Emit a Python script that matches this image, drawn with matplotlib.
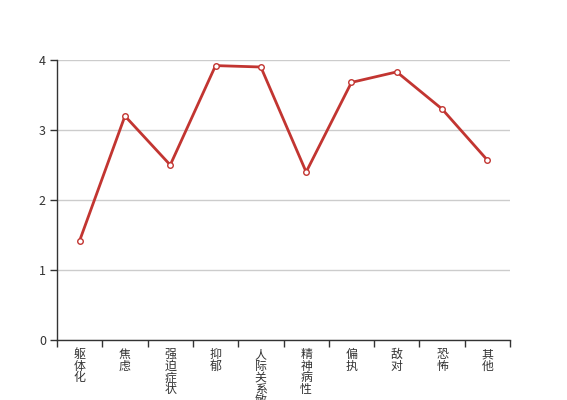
import matplotlib
matplotlib.use("Agg")
import matplotlib.pyplot as plt
import numpy as np

plt.rcParams['font.family'] = ['Noto Sans CJK SC', 'DejaVu Sans']

categories = ["躯体化", "焦虑", "强迫症状", "抑郁", "人际关系敏感", "精神病性", "偏执", "敌对", "恐怖", "其他"]
values = [1.42, 3.2, 2.5, 3.92, 3.9, 2.4, 3.68, 3.83, 3.3, 2.57]
yticks = [0, 1, 2, 3, 4]

W, H = 567, 400
fig = plt.figure(figsize=(W / 100, H / 100), dpi=100)
ax = fig.add_axes([57 / W, 60 / H, (510 - 57) / W, (340 - 60) / H])

n = len(categories)
x = np.arange(n)
ax.plot(x, values, color='#c23531', lw=2, marker='o', markersize=4,
        markerfacecolor='white', markeredgecolor='#c23531', markeredgewidth=1, zorder=3,
        clip_on=False)

ax.set_xlim(-0.5, n - 0.5)
ax.set_ylim(0, 4)
ax.set_yticks(yticks)
ax.set_yticklabels([str(v) for v in yticks])
ax.grid(axis='y', color='#cccccc', lw=1)
ax.set_axisbelow(True)

ax.set_xticks(x)
ax.set_xticklabels(["\n".join(c) for c in categories], fontsize=8.6, color='#333333',
                   linespacing=0.85, va='top')
ax.set_xticks(np.arange(n + 1) - 0.5, minor=True)
ax.tick_params(axis='x', which='major', length=0, pad=6)
ax.tick_params(axis='x', which='minor', length=5, width=1, color='#333333')
ax.tick_params(axis='y', length=5, width=1, color='#333333', labelsize=9, labelcolor='#333333', pad=3)

for s in ['top', 'right']:
    ax.spines[s].set_visible(False)
for s in ['left', 'bottom']:
    ax.spines[s].set_color('#333333')
    ax.spines[s].set_linewidth(1)

fig.savefig("out.png", dpi=100)
